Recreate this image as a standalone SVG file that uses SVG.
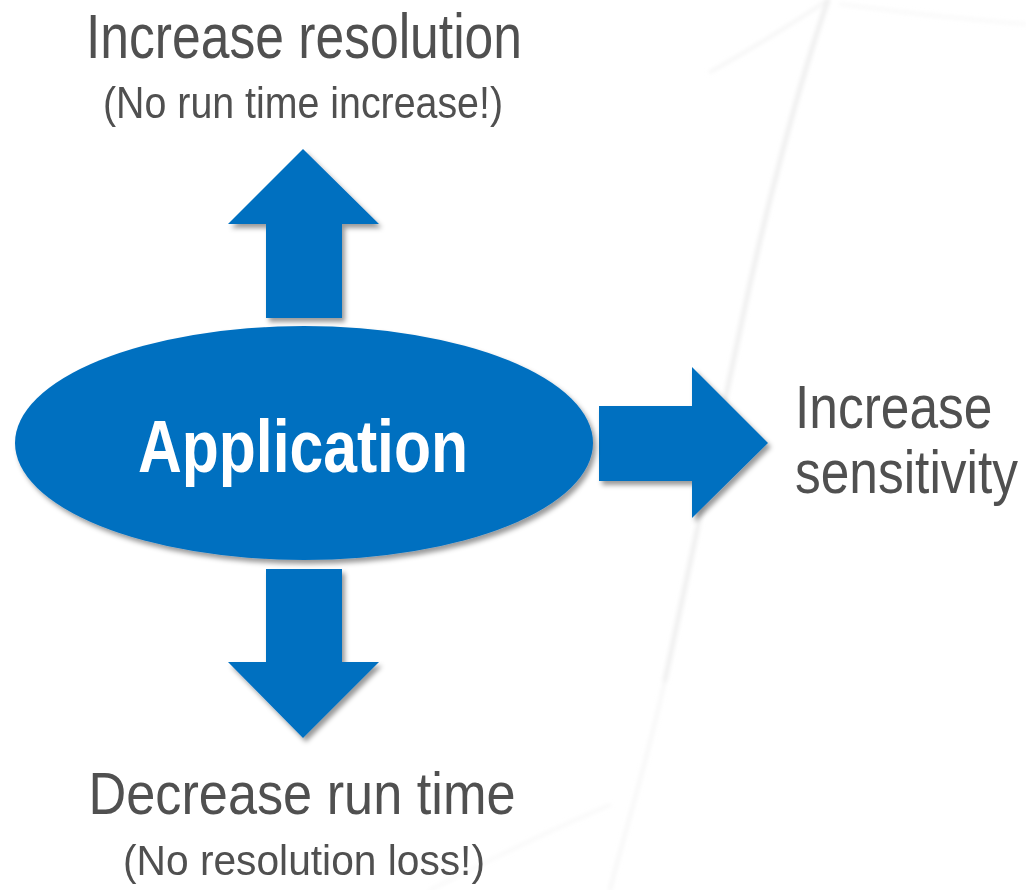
<svg xmlns="http://www.w3.org/2000/svg" width="1026" height="890" viewBox="0 0 1026 890">
  <style>
    .label { font-family: "Liberation Sans", Arial, sans-serif; fill: #505050; }
    .center { text-anchor: middle; }
    .blue { fill: #0070c0; }
    .swoosh { fill: none; stroke: #ececec; stroke-linecap: round; }
  </style>
  <defs>
    <filter id="shadow" x="-10%" y="-10%" width="125%" height="130%">
      <feDropShadow dx="3" dy="4" stdDeviation="2.5" flood-color="#000" flood-opacity="0.4"/>
    </filter>
    <filter id="soft" x="-20%" y="-20%" width="140%" height="140%">
      <feGaussianBlur stdDeviation="2"/>
    </filter>
  </defs>

  <rect width="1026" height="890" fill="#ffffff"/>

  <!-- faint background swoosh -->
  <g id="background" filter="url(#soft)">
    <path class="swoosh" stroke-width="4" d="M828,0 C800,80 765,210 740,330 C715,450 690,560 665,680"/>
    <path class="swoosh" stroke-width="3" opacity="0.5" d="M665,680 C645,770 625,830 610,890"/>
    <path class="swoosh" stroke-width="3" opacity="0.6" d="M828,0 C790,25 750,50 710,72"/>
    <path class="swoosh" stroke-width="3" opacity="0.35" d="M840,4 C900,12 970,20 1026,24"/>
    <path class="swoosh" stroke-width="3" opacity="0.35" d="M430,890 C490,860 550,830 610,805"/>
  </g>

  <!-- arrows -->
  <g id="connectors" class="blue" filter="url(#shadow)">
    <polygon id="arrow-up" points="303,149 379,224 342,224 342,318 266,318 266,224 228,224"/>
    <polygon id="arrow-right" points="599,406 692,406 692,367 768,443 692,518 692,481 599,481"/>
    <polygon id="arrow-down" points="266,569 342,569 342,662 379,662 303,738 228,662 266,662"/>
  </g>

  <g id="node-application">
    <ellipse class="blue" cx="304" cy="443" rx="289" ry="117" filter="url(#shadow)"/>
    <text x="303" y="472" font-family="'Liberation Sans', Arial, sans-serif" font-weight="bold" font-size="74" fill="#ffffff" text-anchor="middle" textLength="330" lengthAdjust="spacingAndGlyphs">Application</text>
  </g>

  <g id="node-resolution">
    <text class="label center" x="304" y="58" font-size="63" textLength="436" lengthAdjust="spacingAndGlyphs">Increase resolution</text>
    <text class="label center" x="303" y="118" font-size="45" textLength="400" lengthAdjust="spacingAndGlyphs">(No run time increase!)</text>
  </g>

  <!-- narrow set: horizontal scale instead of textLength -->
  <g id="node-sensitivity">
    <text class="label" transform="translate(795,428) scale(0.83,1)" x="0" y="0" font-size="62">Increase</text>
    <text class="label" transform="translate(795,493) scale(0.83,1)" x="0" y="0" font-size="62">sensitivity</text>
  </g>

  <g id="node-runtime">
    <text class="label center" x="302" y="814" font-size="59" textLength="427" lengthAdjust="spacingAndGlyphs">Decrease run time</text>
    <text class="label center" x="304" y="875" font-size="43" textLength="362" lengthAdjust="spacingAndGlyphs">(No resolution loss!)</text>
  </g>
</svg>
